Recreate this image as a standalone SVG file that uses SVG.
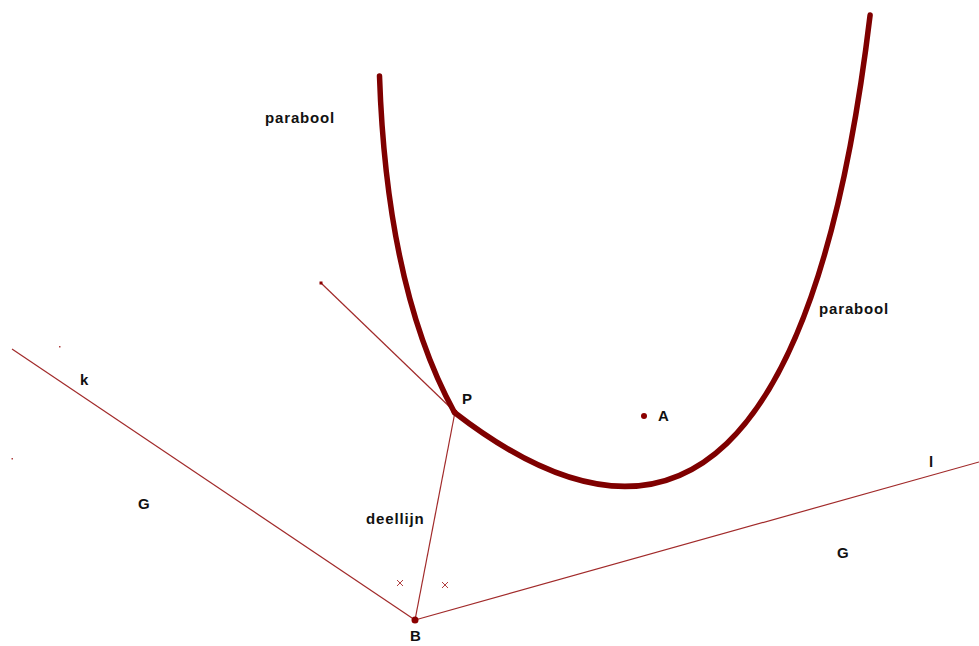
<svg xmlns="http://www.w3.org/2000/svg" width="979" height="646" viewBox="0 0 979 646">
<style>
.thin{stroke:#a12a2a;stroke-width:1.2;fill:none}
.curve{stroke:#7f0000;stroke-width:5.5;fill:none;stroke-linecap:round;stroke-linejoin:round}
.lbl{font-family:"Liberation Sans",Arial,sans-serif;font-weight:bold;font-size:15px;letter-spacing:0.85px;fill:#111}
.pt{fill:#8b0000}
.x{stroke:#b04040;stroke-width:1;fill:none}
</style>
<rect width="979" height="646" fill="#ffffff"/>
<g id="connectors">
<line class="thin" x1="12" y1="349" x2="415" y2="620"/>
<line class="thin" x1="415" y1="620" x2="979" y2="462"/>
<line class="thin" x1="415" y1="620" x2="455" y2="412"/>
<line class="thin" x1="321" y1="283" x2="455" y2="412"/>
</g>
<g id="parabool-left">
<path class="curve" d="M379.5,76 Q386.8,289 454.5,412.5"/>
<text class="lbl" x="265" y="123">parabool</text>
</g>
<g id="parabool-right">
<path class="curve" d="M454.5,412.5 Q791.3,673.1 870.1,15.1"/>
<text class="lbl" x="819" y="314">parabool</text>
</g>
<g id="k">
<text class="lbl" x="80" y="385">k</text>
</g>
<g id="l">
<text class="lbl" x="929" y="467">l</text>
</g>
<g id="P">
<circle class="pt" cx="455" cy="412" r="2.5"/>
<text class="lbl" x="462" y="404">P</text>
</g>
<g id="A">
<circle class="pt" cx="644" cy="416" r="3"/>
<text class="lbl" x="658" y="421">A</text>
</g>
<g id="B">
<circle class="pt" cx="415" cy="620" r="3.5"/>
<text class="lbl" x="410" y="641">B</text>
</g>
<g id="deellijn">
<text class="lbl" x="366" y="524">deellijn</text>
</g>
<g id="G-left">
<text class="lbl" x="138" y="508.5">G</text>
</g>
<g id="G-right">
<text class="lbl" x="837" y="557.5">G</text>
</g>
<g id="points">
<rect class="pt" x="319.5" y="281.5" width="3" height="3"/>
<rect fill="#b04040" x="59" y="346" width="1.5" height="1.5"/>
<rect fill="#b04040" x="11.5" y="458" width="1.5" height="1.5"/>
<path class="x" d="M397,580 l6,6 M403,580 l-6,6"/>
<path class="x" d="M442,582 l6,6 M448,582 l-6,6"/>
</g>
</svg>
